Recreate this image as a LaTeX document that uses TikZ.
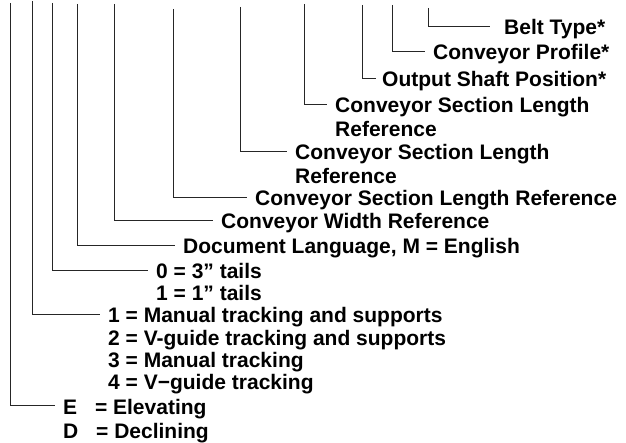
\documentclass[tikz,border=0pt]{standalone}
\usepackage{fontspec}
\setmainfont{Liberation Sans}
\begin{document}
\begin{tikzpicture}[x=1pt, y=-1pt,
		lbl/.style={anchor=base west, inner xsep=8pt, inner ysep=0pt, font=\fontsize{21}{24}\selectfont\bfseries},
		lead/.style={line width=0.8pt, draw=black!85}]
		\useasboundingbox (0,0) rectangle (626,443);
		% tops of the leads, left to right
		\coordinate (tSlope) at (10,3);
		\coordinate (tTrack) at (32,1);
		\coordinate (tTail) at (52,3);
		\coordinate (tLang) at (77,4);
		\coordinate (tWidth) at (114,4);
		\coordinate (tSecC) at (173,9);
		\coordinate (tSecB) at (240,7);
		\coordinate (tSecA) at (304,4);
		\coordinate (tShaft) at (362,5);
		\coordinate (tProf) at (392,5);
		\coordinate (tBelt) at (428,8);
		
		% labels
		\node [lbl, inner xsep=14pt] (belt) at (490,35) {Belt Type*};
		\node [lbl] (prof) at (425,60) {Conveyor Profile*};
		\node [lbl, inner xsep=6pt] (shaft) at (376,87) {Output Shaft Position*};
		\node [lbl] (secA) at (327,113) {Conveyor Section Length};
		\node [lbl] (secAr) at ([yshift=-24pt]secA.base west) {Reference};
		\node [lbl] (secB) at (287,160) {Conveyor Section Length};
		\node [lbl] (secBr) at ([yshift=-24pt]secB.base west) {Reference};
		\node [lbl] (secC) at (247,206) {Conveyor Section Length Reference};
		\node [lbl] (width) at (213,229) {Conveyor Width Reference};
		\node [lbl] (lang) at (175,254) {Document Language, M = English};
		\node [lbl] (tail) at (148,279) {0 = 3” tails};
		\node [lbl] (tailb) at ([yshift=-22pt]tail.base west) {1 = 1” tails};
		\node [lbl] (track) at (100,323) {1 = Manual tracking and supports};
		\node [lbl] (trackb) at ([yshift=-22pt]track.base west) {2 = V-guide tracking and supports};
		\node [lbl] (trackc) at ([yshift=-22pt]trackb.base west) {3 = Manual tracking};
		\node [lbl] (trackd) at ([yshift=-22pt]trackc.base west) {4 = V−guide tracking};
		\node [lbl] (slope) at (55,414) {E\hspace{12pt} = Elevating};
		\node [lbl] (slopeb) at ([yshift=-24pt]slope.base west) {D\hspace{12pt} = Declining};
		
		\begin{scope} [lead]
		\draw (tBelt) |- ([yshift=9pt]belt.base west);
		\draw (tProf) |- ([yshift=9pt]prof.base west);
		\draw (tShaft) |- ([yshift=9pt]shaft.base west);
		\draw (tSecA) |- ([yshift=9pt]secA.base west);
		\draw (tSecB) |- ([yshift=9pt]secB.base west);
		\draw (tSecC) |- ([yshift=9pt]secC.base west);
		\draw (tWidth) |- ([yshift=9pt]width.base west);
		\draw (tLang) |- ([yshift=9pt]lang.base west);
		\draw (tTail) |- ([yshift=9pt]tail.base west);
		\draw (tTrack) |- ([yshift=9pt]track.base west);
		\draw (tSlope) |- ([yshift=9pt]slope.base west);
		\end{scope}
		
		\end{tikzpicture}
\end{document}
